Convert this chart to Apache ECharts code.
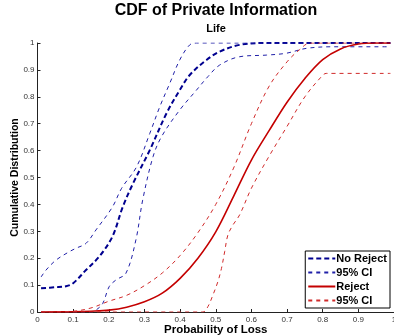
<!DOCTYPE html>
<html>
<head>
<meta charset="utf-8">
<script src="https://cdn.jsdelivr.net/npm/echarts@6/dist/echarts.min.js"></script>
<style>
  html, body { margin: 0; padding: 0; background: #fff; }
  #main { width: 394px; height: 335px; }
</style>
</head>
<body>
<div id="main"></div>
<script>
// CDF of private information, life insurance
var xTicks = [0, 0.1, 0.2, 0.3, 0.4, 0.5, 0.6, 0.7, 0.8, 0.9, 1];
var yTicks = [0, 0.1, 0.2, 0.3, 0.4, 0.5, 0.6, 0.7, 0.8, 0.9, 1];

// No Reject
var noRejectX = [0.01, 0.05, 0.08, 0.1, 0.136, 0.173, 0.21, 0.239, 0.268, 0.315, 0.362, 0.399, 0.427, 0.474, 0.511, 0.567, 0.642, 0.99];
var noRejectY = [0.088, 0.092, 0.096, 0.107, 0.156, 0.206, 0.28, 0.39, 0.478, 0.602, 0.739, 0.825, 0.881, 0.937, 0.968, 0.993, 1.0, 1.0];

// No Reject 95% CI upper / lower
var nrUpperX = [0.01, 0.024, 0.052, 0.089, 0.108, 0.136, 0.164, 0.21, 0.236, 0.278, 0.315, 0.343, 0.371, 0.399, 0.427, 0.446, 0.99];
var nrUpperY = [0.13, 0.156, 0.193, 0.224, 0.237, 0.255, 0.305, 0.39, 0.46, 0.54, 0.664, 0.763, 0.85, 0.937, 0.993, 1.0, 1.0];
var nrLowerX = [0.01, 0.15, 0.164, 0.183, 0.201, 0.22, 0.248, 0.276, 0.295, 0.324, 0.348, 0.399, 0.446, 0.478, 0.511, 0.567, 0.642, 0.698, 0.754, 0.828, 0.99];
var nrLowerY = [0, 0, 0.007, 0.032, 0.094, 0.119, 0.144, 0.268, 0.416, 0.577, 0.652, 0.751, 0.825, 0.875, 0.918, 0.949, 0.955, 0.962, 0.98, 0.986, 0.986];

// Reject
var rejectX = [0.01, 0.1, 0.15, 0.2, 0.25, 0.3, 0.35, 0.4, 0.45, 0.5, 0.55, 0.6, 0.65, 0.7, 0.75, 0.8, 0.85, 0.9, 0.95, 0.99];
var rejectY = [0, 0.001, 0.003, 0.007, 0.018, 0.038, 0.07, 0.125, 0.2, 0.298, 0.43, 0.565, 0.675, 0.78, 0.868, 0.938, 0.978, 0.996, 1.0, 1.0];

// Reject 95% CI upper / lower
var rjUpperX = [0.01, 0.1, 0.15, 0.2, 0.25, 0.3, 0.35, 0.4, 0.45, 0.5, 0.55, 0.6, 0.65, 0.7, 0.735, 0.765, 0.99];
var rjUpperY = [0, 0.003, 0.015, 0.04, 0.062, 0.098, 0.145, 0.21, 0.295, 0.4, 0.535, 0.7, 0.84, 0.93, 0.975, 1.0, 1.0];
var rjLowerX = [0.01, 0.464, 0.478, 0.492, 0.506, 0.516, 0.525, 0.534, 0.548, 0.567, 0.6, 0.65, 0.7, 0.75, 0.8, 0.81, 0.99];
var rjLowerY = [0, 0, 0.02, 0.063, 0.113, 0.162, 0.224, 0.286, 0.323, 0.361, 0.46, 0.58, 0.69, 0.8, 0.88, 0.887, 0.887];

function pairs(xs, ys) {
    var out = [];
    for (var i = 0; i < xs.length; i++) out.push([xs[i], ys[i]]);
    return out;
}

var font = 'Liberation Sans, Arial, sans-serif';
var navy = '#00008f';
var blueCI = '#2020a8';
var red = '#c40000';
var redCI = '#d02a2a';

var myChart = echarts.init(document.getElementById('main'));

function line(name, data, color, width, type) {
    return {
        name: name,
        type: 'line',
        data: data,
        symbol: 'none',
        smooth: 0.35,
        silent: true,
        animation: false,
        lineStyle: { color: color, width: width, type: type },
        itemStyle: { color: color }
    };
}

var axisCommon = {
    type: 'value',
    min: 0,
    max: 1,
    interval: 0.1,
    nameMoveOverlap: false,
    splitLine: { show: false },
    axisLine: { show: true, lineStyle: { color: '#222', width: 1 } },
    axisTick: { show: true, inside: true, length: 3, lineStyle: { color: '#222' } }
};

function tickFmt(list) {
    return function (v) {
        var r = Math.round(v * 10) / 10;
        return list.indexOf(r) >= 0 ? String(r) : '';
    };
}

option = {
    animation: false,
    title: {
        text: 'CDF of Private Information',
        subtext: 'Life',
        left: 216,
        top: 3,
        textAlign: 'center',
        padding: 0,
        itemGap: 4,
        textStyle: { fontFamily: font, fontWeight: 'bold', fontSize: 16, color: '#000' },
        subtextStyle: { fontFamily: font, fontWeight: 'bold', fontSize: 11, color: '#000' }
    },
    legend: {
        right: 4,
        bottom: 27,
        orient: 'vertical',
        align: 'left',
        backgroundColor: '#fff',
        borderColor: '#000',
        borderWidth: 1,
        borderRadius: 0,
        padding: [2, 3, 2, 2],
        itemGap: 3,
        itemWidth: 27,
        itemHeight: 10,
        itemStyle: { opacity: 0 },
        data: ['No Reject', 'CI_blue', 'Reject', 'CI_red'],
        formatter: function (name) {
            return name.indexOf('CI') === 0 ? '95% CI' : name;
        },
        textStyle: { fontFamily: font, fontWeight: 'bold', fontSize: 11, color: '#000', padding: [0, 0, 0, -4] }
    },
    grid: {
        left: 37.5,
        right: 0,
        top: 43,
        bottom: 23,
        containLabel: false,
        outerBoundsMode: 'none'
    },
    xAxis: Object.assign({}, axisCommon, {
        name: 'Probability of Loss',
        nameLocation: 'middle',
        nameGap: 12,
        nameTextStyle: { fontFamily: font, fontWeight: 'bold', fontSize: 11.5, color: '#000' },
        axisLabel: { fontFamily: font, fontSize: 8, color: '#333', margin: 4, formatter: tickFmt(xTicks) }
    }),
    yAxis: Object.assign({}, axisCommon, {
        name: 'Cumulative Distribution',
        nameLocation: 'middle',
        nameGap: 17,
        nameTextStyle: { fontFamily: font, fontWeight: 'bold', fontSize: 10.5, color: '#000' },
        axisLabel: { fontFamily: font, fontSize: 8, color: '#333', margin: 3, formatter: tickFmt(yTicks) }
    }),
    series: [
        line('No Reject', pairs(noRejectX, noRejectY), navy, 2, [5, 3]),
        line('CI_blue', pairs(nrUpperX, nrUpperY), blueCI, 1, [4, 4]),
        line('CI_blue', pairs(nrLowerX, nrLowerY), blueCI, 1, [4, 4]),
        line('Reject', pairs(rejectX, rejectY), red, 1.6, 'solid'),
        line('CI_red', pairs(rjUpperX, rjUpperY), redCI, 1, [4, 4]),
        line('CI_red', pairs(rjLowerX, rjLowerY), redCI, 1, [4, 4])
    ]
};
myChart.setOption(option);
</script>
</body>
</html>
